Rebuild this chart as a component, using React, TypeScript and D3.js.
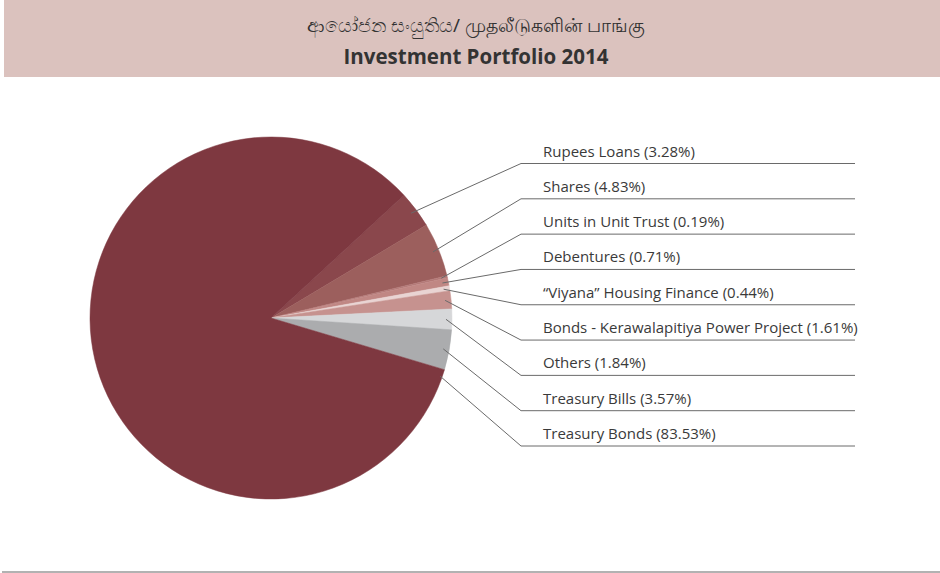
import React, { useEffect, useRef } from 'react';
import * as d3 from 'd3';

const categories = [
  'Rupees Loans',
  'Shares',
  'Units in Unit Trust',
  'Debentures',
  '\u201CViyana\u201D Housing Finance',
  'Bonds - Kerawalapitiya Power Project',
  'Others',
  'Treasury Bills',
  'Treasury Bonds',
];
const shares = [3.28, 4.83, 0.19, 0.71, 0.44, 1.61, 1.84, 3.57, 83.53];
const colors = ['#8a474c', '#9c5f5d', '#b47a78', '#c08784', '#e9d4d3', '#c6928f', '#d6d7d9', '#abacae', '#7e3840'];

const titleLocal = 'ආයෝජන සංයුතිය/ முதலீடுகளின் பாங்கு';
const titleEn = 'Investment Portfolio 2014';

const App = () => {
  const svgRef = useRef<SVGSVGElement>(null);

  useEffect(() => {
    const width = 940;
    const height = 573;
    const svg = d3.select(svgRef.current).attr('width', width).attr('height', height);
    svg.selectAll('*').remove();

    // title band
    svg.append('rect').attr('x', 4).attr('y', 0).attr('width', 936).attr('height', 77).attr('fill', '#dbc2be');
    svg
      .append('text')
      .attr('x', 476)
      .attr('y', 32)
      .attr('text-anchor', 'middle')
      .style('font-family', '"Noto Sans", sans-serif')
      .style('font-size', '18.8px')
      .style('fill', '#333')
      .text(titleLocal);
    svg
      .append('text')
      .attr('x', 476)
      .attr('y', 64)
      .attr('text-anchor', 'middle')
      .style('font-family', '"Open Sans", sans-serif')
      .style('font-weight', 700)
      .style('font-size', '20.5px')
      .style('fill', '#333')
      .text(titleEn);

    // bottom rule
    svg.append('line').attr('x1', 2).attr('x2', 940).attr('y1', 572).attr('y2', 572)
      .attr('stroke', '#666').attr('stroke-width', 1.2);

    const cx = 271;
    const cy = 318;
    const r = 181;
    const start = (47.3 * Math.PI) / 180;

    const data = categories.map((name, i) => ({ name, value: shares[i], color: colors[i] }));
    const pie = d3.pie<any>().sort(null).value((d) => d.value).startAngle(start).endAngle(start + 2 * Math.PI);
    const arcs = pie(data);
    const arc = d3.arc<any>().innerRadius(0).outerRadius(r);

    const g = svg.append('g').attr('transform', `translate(${cx},${cy})`);
    g.selectAll('path')
      .data(arcs)
      .enter()
      .append('path')
      .attr('d', arc)
      .attr('fill', (d) => d.data.color)
      .attr('stroke', (d) => d.data.color)
      .attr('stroke-width', 0.5);

    // labels
    const y = d3.scaleLinear().domain([0, categories.length - 1]).range([163.5, 446]);
    const lineX0 = 521;
    const lineX1 = 855;

    arcs.forEach((a, i) => {
      const big = a.data.value > 50;
      const ang = big ? a.startAngle + (2.4 * Math.PI) / 180 : (a.startAngle + a.endAngle) / 2;
      const rr = big ? r - 2 : r - 6;
      const px = cx + rr * Math.sin(ang);
      const py = cy - rr * Math.cos(ang);
      const ly = y(i);
      svg
        .append('polyline')
        .attr('points', `${px},${py} ${lineX0},${ly} ${lineX1},${ly}`)
        .attr('fill', 'none')
        .attr('stroke', '#6a6a6a')
        .attr('stroke-width', 1);
      svg
        .append('text')
        .attr('x', 543)
        .attr('y', ly - 7)
        .style('font-family', '"Open Sans", sans-serif')
        .style('font-size', '15px')
        .style('fill', '#3a3a3a')
        .text(`${a.data.name} (${a.data.value.toFixed(2)}%)`);
    });
  }, []);

  return <svg ref={svgRef} style={{ position: 'absolute', left: 0, top: 0 }}></svg>;
};

export default App;
